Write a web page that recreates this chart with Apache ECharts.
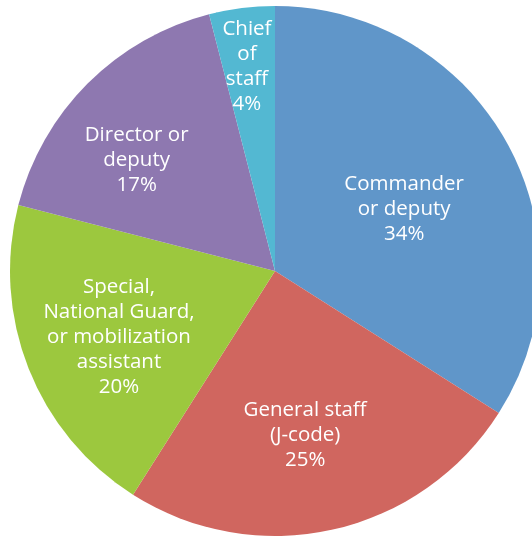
<!DOCTYPE html>
<html>
<head>
<meta charset="utf-8">
<script src="https://cdn.jsdelivr.net/npm/echarts@6/dist/echarts.min.js"></script>
<style>
  html, body { margin: 0; padding: 0; background: #fff; }
  #chart { width: 532px; height: 537px; }
</style>
</head>
<body>
<div id="chart"></div>
<script>
// 数据
const categories = [
  'Commander\nor deputy',
  'General staff\n(J-code)',
  'Special,\nNational Guard,\nor mobilization\nassistant',
  'Director or\ndeputy',
  'Chief\nof\nstaff'
]
const shares = [34, 25, 20, 17, 4]

// 样式
const colors = ['#6096c9', '#d0665f', '#9cc83e', '#8e78b0', '#53b8d2']
// label placement: [angle shift from slice middle (deg), radius fraction]
const labelPlace = [[3.3, 0.54], [2.2, 0.63], [-1.5, 0.64], [-6.2, 0.67], [-0.6, 0.78]]

const cx = 275, cy = 271, R = 265

const chart = echarts.init(document.getElementById('chart'))

// cumulative middle angles (clockwise from top) for label layout
const total = shares.reduce((a, b) => a + b, 0)
const midAngles = []
let acc = 0
shares.forEach(v => {
  midAngles.push((acc + v / 2) / total * 360)
  acc += v
})

const option = {
  animation: false,
  series: [
    {
      type: 'pie',
      center: [cx, cy],
      radius: R,
      startAngle: 90,
      clockwise: true,
      silent: true,
      itemStyle: { borderWidth: 0 },
      label: {
        show: true,
        position: 'inside',
        formatter: '{b}\n{d}%',
        color: '#fff',
        fontFamily: 'Open Sans',
        fontSize: 20.5,
        lineHeight: 25,
        align: 'center'
      },
      labelLayout: function (params) {
        const i = params.dataIndex
        const a = (midAngles[i] + labelPlace[i][0]) * Math.PI / 180
        const r = labelPlace[i][1] * R
        return {
          x: cx + r * Math.sin(a),
          y: cy - r * Math.cos(a),
          align: 'center',
          verticalAlign: 'middle'
        }
      },
      data: categories.map((name, i) => ({
        name: name,
        value: shares[i],
        itemStyle: { color: colors[i] }
      }))
    }
  ]
}

chart.setOption(option)
</script>
</body>
</html>
